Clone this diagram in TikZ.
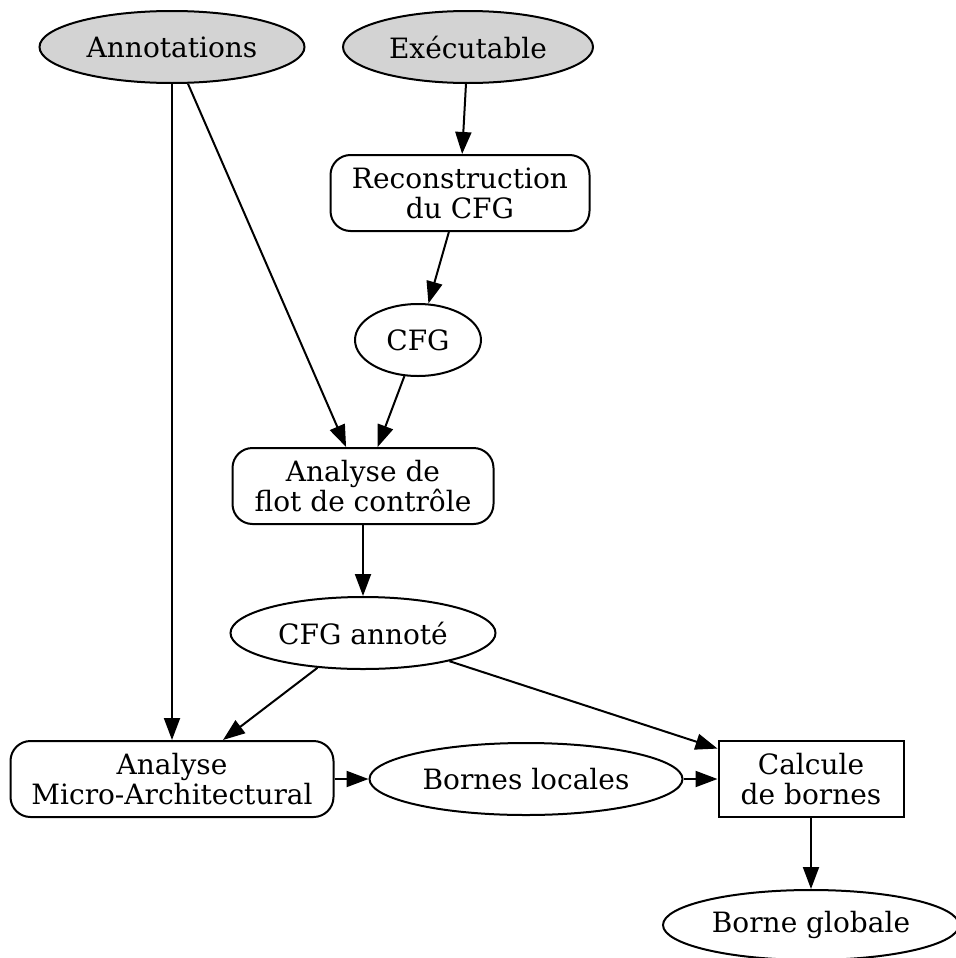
\documentclass[tikz,border=0pt]{standalone}
\usepackage{fontspec}
\setmainfont{DejaVu Serif}
\usepackage{tikz}
\usetikzlibrary{shapes.geometric,arrows.meta,positioning}
\definecolor{lightgrey}{HTML}{D3D3D3}

\begin{document}
\begin{tikzpicture}
	[   x=0.5pt,y=-0.5pt,
	    every node/.style={font=\fontsize{14}{15}\selectfont,align=center,inner sep=0pt,line width=1pt},
	    enode/.style={draw=black,fill=#1,ellipse,minimum height=36pt},
	    rnode/.style={draw=black,rectangle,rounded corners=10pt,minimum height=38pt},
	    bnode/.style={draw=black,rectangle,minimum height=38pt},
	]
	\tikzset{normal arrow/.style={draw,line width=1pt,-{Triangle[length=11pt,width=8pt]}}}
	\useasboundingbox (0,0) rectangle (955,958);
	
	\node[enode=lightgrey,minimum width=132.5pt] (annot) at (172,47) {Annotations};
	\node[enode=lightgrey,minimum width=125pt] (exe) at (468,47) {Exécutable};
	\node[rnode,minimum width=129.5pt] (recon) at (460,193) {Reconstruction\\du CFG};
	\node[enode=white,minimum width=63pt] (cfg) at (418,340) {CFG};
	\node[rnode,minimum width=130.5pt] (flot) at (363,486) {Analyse de\\flot de contrôle};
	\node[enode=white,minimum width=132.5pt] (cfga) at (363,633) {CFG annoté};
	\node[rnode,minimum width=161.5pt] (micro) at (172,779) {Analyse\\Micro-Architectural};
	\node[enode=white,minimum width=156.5pt] (loc) at (526,779) {Bornes locales};
	\node[bnode,minimum width=92.5pt] (calc) at (811,779) {Calcule\\de bornes};
	\node[enode=white,minimum width=148pt,minimum height=35pt] (glob) at (811,925) {Borne globale};
	
	\path[normal arrow] (annot) -- (micro);
	\path[normal arrow] (annot) -- (flot);
	\path[normal arrow] (exe) -- (recon);
	\path[normal arrow] (recon) -- (cfg);
	\path[normal arrow] (cfg) -- (flot);
	\path[normal arrow] (flot) -- (cfga);
	\path[normal arrow] (cfga) -- (micro);
	\path[normal arrow] (cfga) -- (calc);
	\path[normal arrow] (micro) -- (loc);
	\path[normal arrow] (loc) -- (calc);
	\path[normal arrow] (calc) -- (glob);

\end{tikzpicture}
\end{document}
